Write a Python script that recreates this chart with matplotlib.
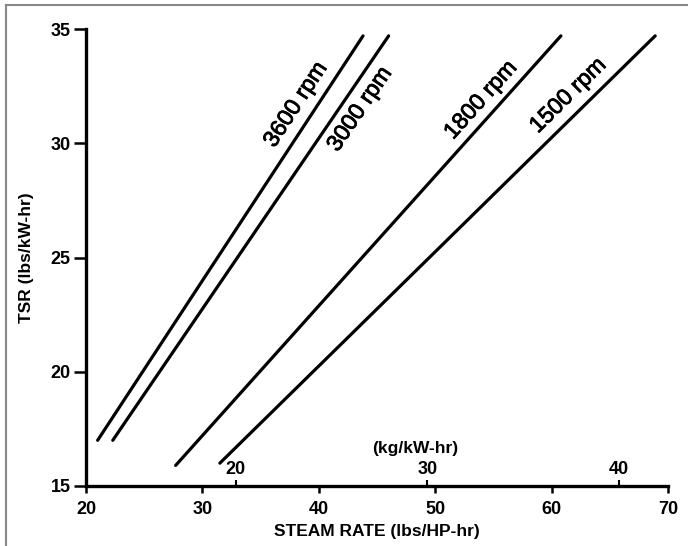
import numpy as np
import matplotlib
matplotlib.use("Agg")
import matplotlib.pyplot as plt
import matplotlib.patheffects as pe
from matplotlib.lines import Line2D

plt.rcParams['font.family'] = ['Liberation Sans', 'DejaVu Sans']

# Turbine speed curves: steam rate (lbs/HP-hr) vs TSR (lbs/kW-hr)
speeds = ["3600 rpm", "3000 rpm", "1800 rpm", "1500 rpm"]
steam_rate = [
    [21.0, 43.8],
    [22.3, 46.0],
    [27.7, 60.8],
    [31.5, 68.9],
]
tsr = [
    [17.0, 34.7],
    [17.0, 34.7],
    [15.9, 34.7],
    [16.0, 34.7],
]
# label anchor points (data units) for each speed curve
label_x = [38.0, 43.5, 53.9, 61.4]
label_y = [31.7, 31.5, 31.9, 32.1]

x_ticks = [20, 30, 40, 50, 60, 70]
y_ticks = [15, 20, 25, 30, 35]
kg_ticks = [20, 30, 40]

# 1 lbs/HP-hr = 0.6083 kg/kW-hr
KG_PER_LBHP = 0.45359237 / 0.745699872


def lbhp_to_kg(v):
    return np.asarray(v) * KG_PER_LBHP


def kg_to_lbhp(v):
    return np.asarray(v) / KG_PER_LBHP


W, H = 688, 546
fig = plt.figure(figsize=(W / 100, H / 100), dpi=100)
ax = fig.add_axes([86 / W, 1 - 486 / H, 582 / W, 457 / H])

ax.set_xlim(20, 70)
ax.set_ylim(15, 35)

for xs, ys in zip(steam_rate, tsr):
    ax.plot(xs, ys, color='black', lw=2.3, solid_capstyle='round')

heavy = [pe.withStroke(linewidth=0.6, foreground='black')]
for name, xs, ys, lx, ly in zip(speeds, steam_rate, tsr, label_x, label_y):
    p0 = ax.transData.transform((xs[0], ys[0]))
    p1 = ax.transData.transform((xs[1], ys[1]))
    ang = np.degrees(np.arctan2(p1[1] - p0[1], p1[0] - p0[0]))
    ax.text(lx, ly, name, rotation=ang, rotation_mode='anchor',
            ha='center', va='center', fontsize=16.5, color='black',
            path_effects=heavy)

ax.set_xticks(x_ticks)
ax.set_yticks(y_ticks)
ax.spines[['top', 'right']].set_visible(False)
ax.spines['left'].set_linewidth(2.4)
ax.spines['bottom'].set_linewidth(2.4)
ax.tick_params(axis='y', direction='out', length=9, width=1.8, pad=2,
               labelsize=13)
ax.tick_params(axis='x', direction='out', length=5, width=1.8, pad=6,
               labelsize=13)
for lab in ax.get_xticklabels() + ax.get_yticklabels():
    lab.set_fontweight('bold')

ax.set_xlabel("STEAM RATE (lbs/HP-hr)", fontsize=12.5, fontweight='bold',
              labelpad=4)
ax.set_ylabel("TSR (lbs/kW-hr)", fontsize=12.5, fontweight='bold',
              labelpad=12)

# metric scale sharing the bottom axis line
sec = ax.secondary_xaxis(0, functions=(lbhp_to_kg, kg_to_lbhp))
sec.set_alignment('top')
sec.set_xticks(kg_ticks)
sec.spines['top'].set_visible(False)
sec.tick_params(axis='x', direction='out', length=4, width=1.5, pad=2,
                labelsize=13)
for lab in sec.get_xticklabels():
    lab.set_fontweight('bold')
ax.text(0.565, (486 - 448) / 457, "(kg/kW-hr)", transform=ax.transAxes,
        ha='center', va='center', fontsize=12.5, fontweight='bold')

# page frame
fig.add_artist(Line2D([6 / W, 6 / W], [0, 1 - 5 / H], color='#888888',
                      lw=1.5, transform=fig.transFigure))
fig.add_artist(Line2D([6 / W, 1], [1 - 5 / H, 1 - 5 / H], color='#888888',
                      lw=1.5, transform=fig.transFigure))

fig.savefig("out.png", dpi=100, facecolor='white')
